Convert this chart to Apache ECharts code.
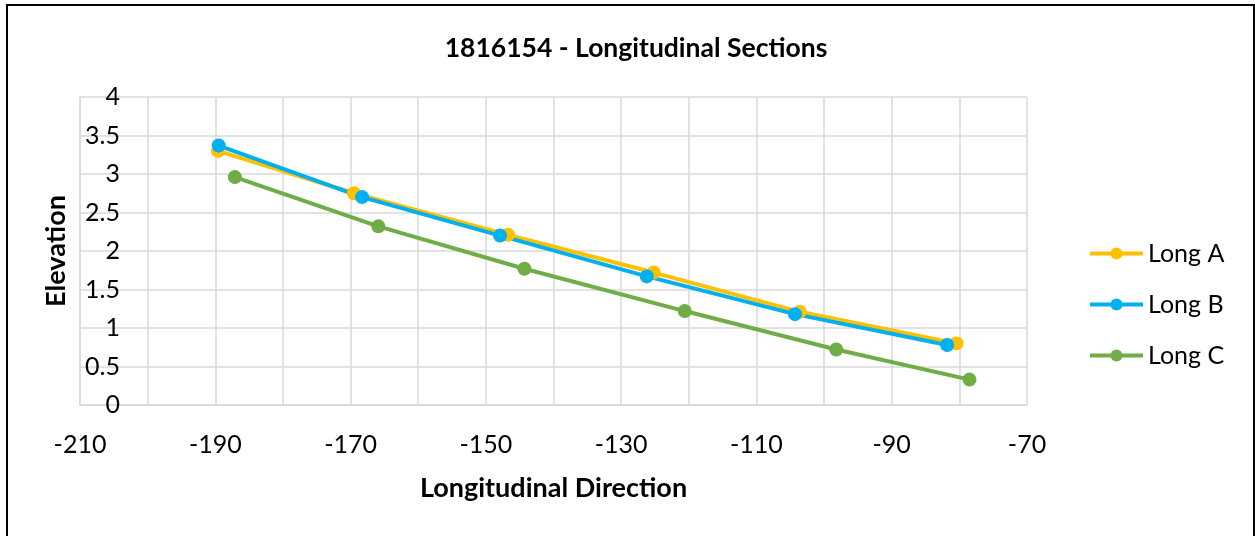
<!DOCTYPE html>
<html>
<head>
<meta charset="utf-8">
<script src="https://cdn.jsdelivr.net/npm/echarts@6/dist/echarts.min.js"></script>
<style>
html,body{margin:0;padding:0;background:#fff;}
#c{width:1255px;height:536px;}
</style>
</head>
<body>
<div id="c"></div>
<script>
var titleText = '1816154 - Longitudinal Sections';
var xName = 'Longitudinal Direction';
var yName = 'Elevation';
var seriesNames = ['Long A', 'Long B', 'Long C'];
var longA = [[-189.6, 3.30], [-169.5, 2.75], [-146.7, 2.21], [-125.2, 1.72], [-103.6, 1.21], [-80.4, 0.80]];
var longB = [[-189.5, 3.37], [-168.3, 2.70], [-147.9, 2.20], [-126.2, 1.67], [-104.3, 1.18], [-81.8, 0.78]];
var longC = [[-187.1, 2.96], [-165.9, 2.32], [-144.3, 1.77], [-120.6, 1.22], [-98.2, 0.72], [-78.5, 0.33]];
var colors = ['#FFC000', '#00B0F0', '#70AD47'];

var font = 'Lato, "Open Sans", sans-serif';
var chart = echarts.init(document.getElementById('c'), null, {renderer: 'canvas'});
function mk(name, data, color) {
  return {
    name: name, type: 'line', data: data,
    symbol: 'circle', symbolSize: 14,
    lineStyle: {color: color, width: 4},
    itemStyle: {color: color},
    emphasis: {disabled: true},
    animation: false
  };
}
chart.setOption({
  animation: false,
  backgroundColor: '#fff',
  graphic: [{
    type: 'rect', shape: {x: 7, y: 5, width: 1247, height: 540},
    style: {fill: null, stroke: '#000', lineWidth: 2}, silent: true, z: -1
  }],
  title: {
    text: titleText, left: 631, textAlign: 'center', top: 30,
    textStyle: {fontFamily: font, fontSize: 26.5, fontWeight: 'bold', color: '#000'}
  },
  legend: {
    orient: 'vertical', left: 1083, top: 236,
    itemWidth: 53, itemHeight: 15, itemGap: 26,
    lineStyle: {width: 4},
    textStyle: {fontFamily: font, fontSize: 25, color: '#000', lineHeight: 25},
    data: seriesNames
  },
  grid: {left: 80, right: 228, top: 97, bottom: 131, containLabel: false},
  xAxis: {
    type: 'value', min: -210, max: -70, interval: 20,
    name: xName, nameLocation: 'middle', nameGap: 70,
    nameTextStyle: {fontFamily: font, fontSize: 27, fontWeight: 'bold', color: '#000'},
    axisLine: {show: true, onZero: false, lineStyle: {color: '#d9d9d9', width: 1.5}},
    axisTick: {show: false},
    axisLabel: {fontFamily: font, fontSize: 25, color: '#000', margin: 27},
    splitLine: {show: true, lineStyle: {color: '#d9d9d9', width: 1.5}},
    minorTick: {show: false, splitNumber: 2},
    minorSplitLine: {show: true, lineStyle: {color: '#d9d9d9', width: 1.5}}
  },
  yAxis: {
    type: 'value', min: 0, max: 4, interval: 0.5,
    name: yName, nameLocation: 'middle', nameGap: 10,
    nameTextStyle: {fontFamily: font, fontSize: 27, fontWeight: 'bold', color: '#000'},
    axisLine: {show: true, lineStyle: {color: '#d9d9d9', width: 1.5}},
    axisTick: {show: false},
    axisLabel: {fontFamily: font, fontSize: 25, color: '#000', margin: -40},
    splitLine: {show: true, lineStyle: {color: '#d9d9d9', width: 1.5}}
  },
  series: [mk(seriesNames[0], longA, colors[0]), mk(seriesNames[1], longB, colors[1]), mk(seriesNames[2], longC, colors[2])]
});
</script>
</body>
</html>
